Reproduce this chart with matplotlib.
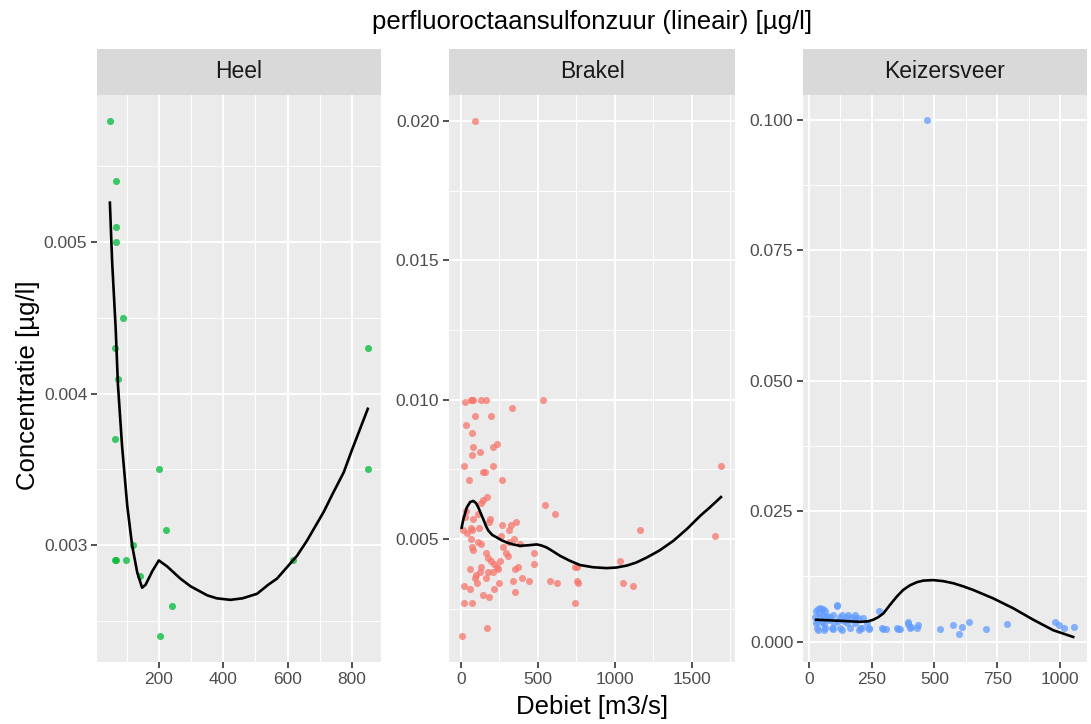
import numpy as np
import matplotlib
matplotlib.use('Agg')
import matplotlib.pyplot as plt
from matplotlib.ticker import MultipleLocator, FormatStrFormatter

# Heel
heel_x = [48, 68, 68, 66, 90, 63, 73, 849, 63, 202, 849, 223, 121, 65, 66, 99, 140, 617, 240, 205]
heel_y = [0.0058, 0.0054, 0.0051, 0.0050, 0.0045, 0.0043, 0.0041, 0.0043, 0.0037, 0.0035,
          0.0035, 0.0031, 0.0030, 0.0029, 0.0029, 0.0029, 0.0028, 0.0029, 0.0026, 0.0024]
heel_fit_x = [48, 55, 66, 73, 86, 102, 117, 133, 148, 159, 180, 200, 226, 267, 298, 350, 380, 422,
              460, 505, 540, 567, 600, 629, 660, 712, 740, 774, 800, 849]
heel_fit_y = [0.00526, 0.00487, 0.00443, 0.00406, 0.00365, 0.00326, 0.00300, 0.00282, 0.00272, 0.00274,
              0.00283, 0.00290, 0.00286, 0.00278, 0.00273, 0.00267, 0.00265, 0.00264,
              0.00265, 0.00268, 0.00274, 0.00278, 0.00286, 0.00293, 0.00303, 0.00322, 0.00334,
              0.00348, 0.00363, 0.00390]

# Brakel
brakel_x = [69, 76, 82, 130, 162, 537, 30, 333, 93, 197, 37, 74, 82, 234, 208, 123, 74,
            24, 212, 1690, 147, 156, 54, 271, 169, 143, 132, 545, 610, 35, 115, 190, 186,
            78, 30, 65, 117, 268, 327, 357, 314, 17, 39, 74, 1165, 346, 260, 65, 110, 132,
            316, 385, 76, 277, 82, 294, 310, 478, 1654, 162, 180, 197, 255, 216, 478, 1035,
            238, 130, 374, 355, 61, 245, 742, 753, 97, 123, 177, 212, 162, 95, 396, 446,
            338, 251, 104, 580, 628, 753, 760, 1052, 1121, 24, 216, 61, 355, 147, 182, 22,
            74, 742, 171, 11, 95]
brakel_y = [0.0100, 0.0100, 0.0100, 0.0100, 0.0100, 0.0100, 0.0099, 0.0097, 0.0094, 0.0094,
            0.0091, 0.0088, 0.0083, 0.0084, 0.0083, 0.0081, 0.0080, 0.0076, 0.0076, 0.0076,
            0.0074, 0.0074, 0.0071, 0.0071, 0.0065, 0.0064, 0.0063, 0.0062, 0.0059, 0.0060,
            0.0059, 0.0057, 0.0056, 0.0057, 0.0058, 0.0054, 0.0054, 0.0055, 0.0055, 0.0056,
            0.0053, 0.0053, 0.0052, 0.0053, 0.0053, 0.0050, 0.0051, 0.0050, 0.0049, 0.0048,
            0.0049, 0.0048, 0.0047, 0.0047, 0.0046, 0.0045, 0.0044, 0.0045, 0.0051, 0.0045,
            0.0043, 0.0042, 0.0042, 0.0041, 0.0041, 0.0042, 0.0040, 0.0040, 0.0040, 0.0039,
            0.0039, 0.0039, 0.0040, 0.0040, 0.0037, 0.0038, 0.0038, 0.0038, 0.0036, 0.0036,
            0.0036, 0.0035, 0.0035, 0.0034, 0.0034, 0.0035, 0.0034, 0.0035, 0.0034, 0.0034,
            0.0033, 0.0033, 0.0032, 0.0032, 0.0031, 0.0030, 0.0029, 0.0027, 0.0027, 0.0027,
            0.0018, 0.0015, 0.0200]
brakel_fit_x = [6, 17, 39, 61, 82, 100, 115, 130, 147, 165, 180, 205, 234, 265, 299, 340, 385, 440,
                494, 525, 558, 600, 645, 710, 775, 860, 948, 1010, 1078, 1140, 1208, 1290, 1381,
                1470, 1554, 1620, 1690]
brakel_fit_y = [0.0054, 0.0057, 0.00612, 0.00632, 0.00636, 0.00628, 0.00612, 0.00592, 0.0057, 0.00545,
                0.00529, 0.00514, 0.00505, 0.00495, 0.00487, 0.00480, 0.00475, 0.00477,
                0.0048, 0.00476, 0.00469, 0.00455, 0.00439, 0.00421, 0.00406, 0.00398, 0.00395,
                0.00397, 0.00404, 0.00415, 0.00433, 0.00458, 0.00493, 0.00536, 0.00582, 0.00614, 0.0065]

# Keizersveer
keiz_x = [113, 110, 28, 36, 44, 50, 56, 62, 40, 96, 130, 155, 182, 70, 24, 44, 58, 84, 124, 150,
          170, 196, 183, 216, 30, 52, 80, 116, 140, 28, 151, 184, 230, 60, 100, 31, 34, 61, 64, 90,
          94, 124, 133, 163, 203, 199, 210, 239, 280, 240, 290, 296, 305, 349, 356, 363, 393, 396,
          402, 406, 431, 433, 522, 575, 598, 608, 637, 704, 790, 979, 997, 1016, 1056, 470]
keiz_y = [0.0071, 0.0069, 0.0058, 0.0062, 0.0065, 0.0060, 0.0063, 0.0058, 0.0055, 0.0052, 0.0052,
          0.0051, 0.0052, 0.0050, 0.0048, 0.0047, 0.0049, 0.0048, 0.0047, 0.0047, 0.0046, 0.0045,
          0.0046, 0.0045, 0.0040, 0.0038, 0.0041, 0.0039, 0.0040, 0.0035, 0.0035, 0.0035, 0.0035,
          0.0033, 0.0036, 0.0026, 0.0023, 0.0023, 0.0026, 0.0026, 0.0024, 0.0026, 0.0023, 0.0026,
          0.0026, 0.0023, 0.0026, 0.0024, 0.0059, 0.0026, 0.0026, 0.0025, 0.0025, 0.0026, 0.0025,
          0.0025, 0.0037, 0.0034, 0.0026, 0.0028, 0.0026, 0.0032, 0.0025, 0.0031, 0.0014, 0.0029,
          0.0037, 0.0025, 0.0034, 0.0038, 0.0031, 0.0027, 0.0029, 0.1000]
keiz_fit_x = [28, 124, 203, 235, 256, 276, 296, 322, 349, 375, 402, 430, 455, 495, 535, 575, 615, 655,
              734, 814, 894, 973, 1053]
keiz_fit_y = [0.0042, 0.0040, 0.0038, 0.0039, 0.0042, 0.0047, 0.0054, 0.0070, 0.0086, 0.0099, 0.0108,
              0.0114, 0.0117, 0.0118, 0.0116, 0.0112, 0.0106, 0.0099, 0.0083, 0.0064, 0.0042, 0.0022,
              0.0009]

plt.rcParams['font.family'] = ['Liberation Sans', 'DejaVu Sans']

W, H = 1091, 724
fig = plt.figure(figsize=(W / 100, H / 100), dpi=100)

panels = [
    ('Heel', heel_x, heel_y, heel_fit_x, heel_fit_y, '#00BA38', 97, 381,
     (8, 890), (0.00223, 0.00597), 200, 0.001),
    ('Brakel', brakel_x, brakel_y, brakel_fit_x, brakel_fit_y, '#F8766D', 449, 735,
     (-76, 1781), (0.00058, 0.02093), 500, 0.005),
    ('Keizersveer', keiz_x, keiz_y, keiz_fit_x, keiz_fit_y, '#619CFF', 803, 1087,
     (-24, 1108), (-0.0039, 0.1048), 250, 0.025),
]

top, bottom = 95, 662
strip_top = 49

for name, x, y, fx, fy, col, x0, x1, xl, yl, xmaj, ymaj in panels:
    ax = fig.add_axes([x0 / W, 1 - bottom / H, (x1 - x0) / W, (bottom - top) / H])
    ax.set_facecolor('#EBEBEB')
    for s in ax.spines.values():
        s.set_visible(False)
    ax.xaxis.set_major_locator(MultipleLocator(xmaj))
    ax.xaxis.set_minor_locator(MultipleLocator(xmaj / 2))
    ax.yaxis.set_major_locator(MultipleLocator(ymaj))
    ax.yaxis.set_minor_locator(MultipleLocator(ymaj / 2))
    ax.xaxis.set_major_formatter(FormatStrFormatter('%d'))
    ax.yaxis.set_major_formatter(FormatStrFormatter('%.3f'))
    ax.grid(which='major', color='white', linewidth=1.4)
    ax.grid(which='minor', color='white', linewidth=0.7)
    ax.set_axisbelow(True)
    ax.tick_params(which='major', length=4, width=1.2, color='#333333',
                   labelcolor='#4D4D4D', labelsize=12.5, pad=3)
    ax.tick_params(which='minor', length=0)
    ax.scatter(x, y, s=26, color=col, alpha=0.75, linewidths=0, zorder=3)
    ax.plot(fx, fy, color='black', linewidth=1.9, zorder=4)
    ax.set_xlim(*xl)
    ax.set_ylim(*yl)

    sax = fig.add_axes([x0 / W, 1 - top / H, (x1 - x0) / W, (top - strip_top) / H])
    sax.set_facecolor('#D9D9D9')
    sax.set_xticks([])
    sax.set_yticks([])
    for s in sax.spines.values():
        s.set_visible(False)
    sax.text(0.5, 0.5, name, ha='center', va='center', fontsize=16.5,
             color='#1A1A1A', transform=sax.transAxes)

fig.text(592 / W, 1 - 22 / H, 'perfluoroctaansulfonzuur (lineair) [µg/l]',
         ha='center', va='center', fontsize=18.5, color='black')
fig.text(592 / W, 1 - 707 / H, 'Debiet [m3/s]', ha='center', va='center',
         fontsize=18.5, color='black')
fig.text(28 / W, 1 - 385 / H, 'Concentratie [µg/l]', ha='center', va='center',
         rotation=90, fontsize=18.5, color='black')

fig.savefig('out.png', dpi=100)
